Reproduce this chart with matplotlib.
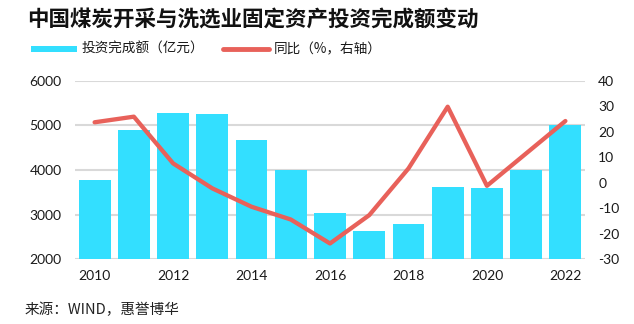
import matplotlib
matplotlib.use("Agg")
import matplotlib.pyplot as plt
from matplotlib.lines import Line2D
from matplotlib.patches import Rectangle

plt.rcParams["axes.unicode_minus"] = False

years = [2010, 2011, 2012, 2013, 2014, 2015, 2016, 2017, 2018, 2019, 2020, 2021, 2022]
investment = [3780, 4900, 5280, 5250, 4680, 4010, 3040, 2630, 2790, 3620, 3600, 4000, 5010]
yoy = [23.7, 25.9, 7.6, -2.2, -9.4, -14.4, -23.8, -12.7, 5.6, 29.8, -1.2, 11.5, 24.2]

title = "中国煤炭开采与洗选业固定资产投资完成额变动"
bar_label = "投资完成额（亿元）"
line_label = "同比（%，右轴）"
source = "来源：WIND，惠誉博华"

cjk = ["Noto Sans CJK SC", "DejaVu Sans"]
num_font = "Lato"

bar_color = "#33DFFF"
line_color = "#E8615A"
grid_color = "#D9D9D9"
text_color = "#1a1a1a"

W, H = 634, 324
fig = plt.figure(figsize=(W / 100, H / 100), dpi=100)
ax = fig.add_axes([75 / W, 1 - 259.3 / H, 510 / W, 178.6 / H])

x = list(range(len(years)))
ax.bar(x, investment, width=0.81, color=bar_color, zorder=2)
ax.set_ylim(2000, 6000)
ax.set_yticks([2000, 3000, 4000, 5000, 6000])
ax.set_xlim(-0.5, len(years) - 0.5)
ax.set_xticks(x[::2])
ax.set_xticklabels([str(y) for y in years[::2]])
ax.grid(axis="y", color=grid_color, linewidth=1.5, zorder=0)
ax.set_axisbelow(True)
for s in ax.spines.values():
    s.set_visible(False)
ax.tick_params(axis="both", length=0, labelsize=10, colors=text_color)
ax.tick_params(axis="y", pad=9.5)
ax.tick_params(axis="x", pad=8)

ax2 = ax.twinx()
ax2.plot(x, yoy, color=line_color, linewidth=3.1, solid_capstyle="round",
         solid_joinstyle="round", zorder=3)
ax2.set_ylim(-30, 40)
ax2.set_yticks(range(-30, 41, 10))
for s in ax2.spines.values():
    s.set_visible(False)
ax2.tick_params(axis="y", length=0, labelsize=10, colors=text_color, pad=9.5)

for lab in ax.get_xticklabels() + ax.get_yticklabels() + ax2.get_yticklabels():
    lab.set_fontfamily(num_font)

# title
fig.text(27 / W, 1 - 20 / H, title, family=cjk, fontsize=15.5, fontweight="bold",
         va="center", ha="left", color="#111111")

# legend row
ly = 1 - 49 / H
fig.patches.append(Rectangle((31 / W, 1 - 52.3 / H), 46 / W, 6.6 / H,
                             transform=fig.transFigure, facecolor=bar_color,
                             edgecolor="none"))
fig.text(82 / W, ly, bar_label, family=cjk, fontsize=9.8, va="center", ha="left",
         color=text_color)
fig.lines.append(Line2D([223.5 / W, 269 / W], [ly, ly], transform=fig.transFigure,
                        color=line_color, linewidth=3.5, solid_capstyle="round"))
fig.text(274 / W, ly, line_label, family=cjk, fontsize=9.8, va="center", ha="left",
         color=text_color)

# source note
fig.text(25 / W, 1 - 310 / H, source, family=cjk, fontsize=10.5, va="center",
         ha="left", color="#222222")

fig.savefig("out.png", dpi=100, facecolor="white")
